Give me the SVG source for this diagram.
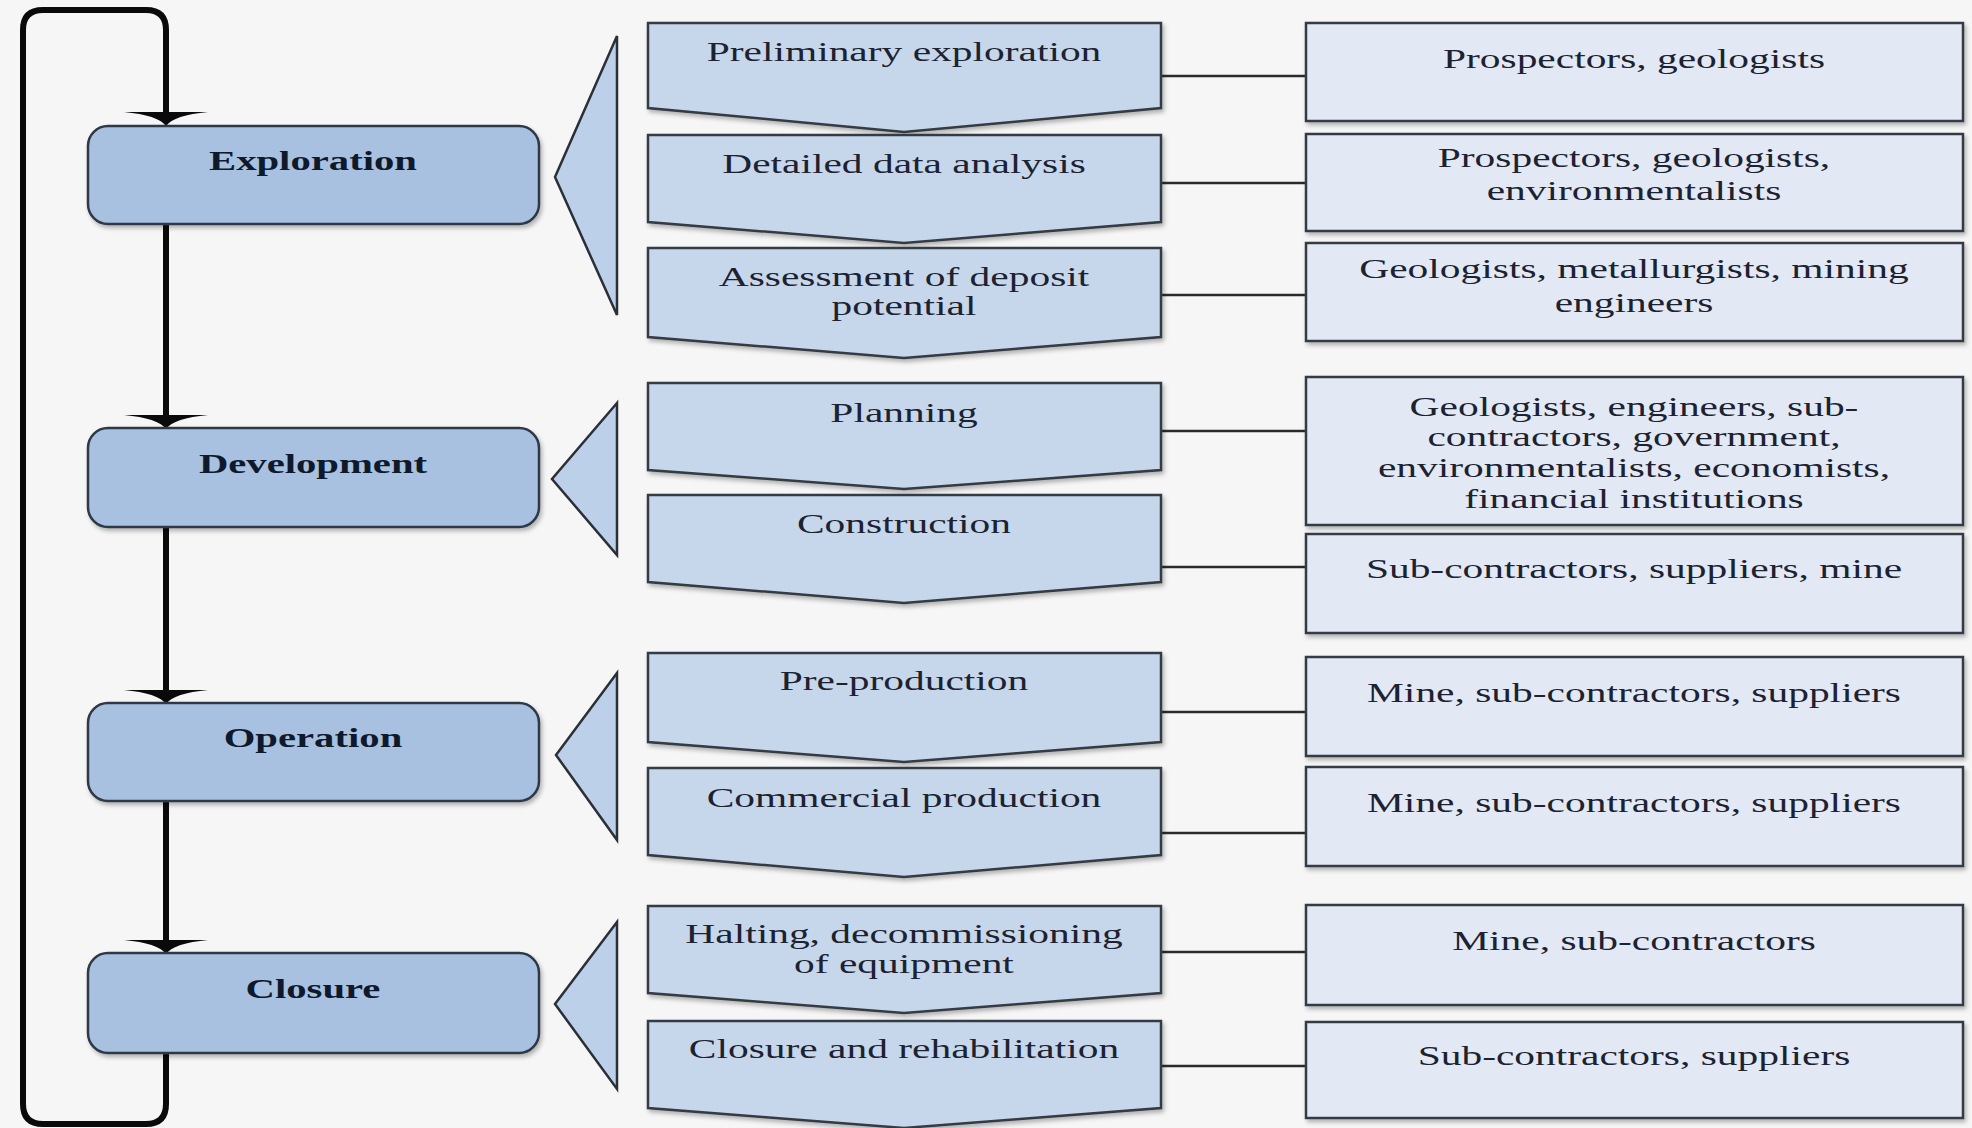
<svg xmlns="http://www.w3.org/2000/svg" xmlns:xlink="http://www.w3.org/1999/xlink" width="1972" height="1128" viewBox="0 0 1972 1128">
<style>
.bg{fill:#f6f6f6}
.stage{fill:#a8c1e0;stroke:#2e3846;stroke-width:2.5;filter:url(#sh)}
.chev{fill:#c6d7ec;stroke:#363b43;stroke-width:2.5;stroke-linejoin:miter;filter:url(#sh)}
.tri{fill:#bcd0ea;stroke:#2b3038;stroke-width:2.5;stroke-linejoin:miter}
.actor{fill:#e2e9f5;stroke:#363b43;stroke-width:2.5;filter:url(#sh)}
.flow{fill:none;stroke:#0a0a0a;stroke-width:6;stroke-linecap:butt}
.link{fill:none;stroke:#2a2a2a;stroke-width:2.5}
.st{font-family:"Liberation Serif","Times New Roman",serif;font-weight:bold;font-size:27.5px;fill:#0e1a2c;text-anchor:middle}
.tx{font-family:"Liberation Serif","Times New Roman",serif;font-size:28px;fill:#1d2230;text-anchor:middle}
</style>
<defs>
<filter id="sh" x="-5%" y="-10%" width="112%" height="130%">
<feDropShadow dx="2" dy="3" stdDeviation="2" flood-color="#000" flood-opacity="0.28"/>
</filter>
<path id="ah" d="M-42,-13 H42 Q8,-10 0,1 Q-8,-10 -42,-13 Z" fill="#0a0a0a"/>
</defs>
<rect class="bg" x="0" y="0" width="1972" height="1128"/>

<g id="connectors">
<path class="flow" d="M166,1053 V1104 Q166,1124 146,1124 H43 Q23,1124 23,1104 V30 Q23,10 43,10 H146 Q166,10 166,30 V114"/>
<path class="flow" d="M166,224 V417"/>
<path class="flow" d="M166,527 V692"/>
<path class="flow" d="M166,801 V942"/>
<use xlink:href="#ah" href="#ah" transform="translate(166,125)"/>
<use xlink:href="#ah" href="#ah" transform="translate(166,428)"/>
<use xlink:href="#ah" href="#ah" transform="translate(166,703)"/>
<use xlink:href="#ah" href="#ah" transform="translate(166,953)"/>
<path class="link" d="M1161,76 H1306 M1161,183 H1306 M1161,295 H1306 M1161,431 H1306 M1161,567 H1306 M1161,712 H1306 M1161,833 H1306 M1161,952 H1306 M1161,1066 H1306"/>
</g>

<g id="exploration">
<rect class="stage" x="88" y="126" width="451" height="98" rx="20"/>
<text class="st" transform="translate(313,170) scale(1.48,1)">Exploration</text>
<polygon class="tri" points="617,36 555,177 617,315"/>
</g>
<g id="development">
<rect class="stage" x="88" y="428" width="451" height="99" rx="20"/>
<text class="st" transform="translate(313,473) scale(1.48,1)">Development</text>
<polygon class="tri" points="617,403 552,479 617,555"/>
</g>
<g id="operation">
<rect class="stage" x="88" y="703" width="451" height="98" rx="20"/>
<text class="st" transform="translate(313,747) scale(1.48,1)">Operation</text>
<polygon class="tri" points="617,673 556,755 617,840"/>
</g>
<g id="closure">
<rect class="stage" x="88" y="953" width="451" height="100" rx="20"/>
<text class="st" transform="translate(313,998) scale(1.48,1)">Closure</text>
<polygon class="tri" points="617,922 555,1004 617,1089"/>
</g>

<g id="step-preliminary">
<path class="chev" d="M648,23 H1161 V108 L904,132 L648,108 Z"/>
<text class="tx" transform="translate(904,61) scale(1.48,1)">Preliminary exploration</text>
</g>
<g id="step-detailed">
<path class="chev" d="M648,135 H1161 V222 L904,243 L648,222 Z"/>
<text class="tx" transform="translate(904,173) scale(1.48,1)">Detailed data analysis</text>
</g>
<g id="step-assessment">
<path class="chev" d="M648,248 H1161 V337 L904,358 L648,337 Z"/>
<text class="tx" transform="translate(904,286) scale(1.48,1)"><tspan x="0" y="0">Assessment of deposit</tspan><tspan x="0" y="29">potential</tspan></text>
</g>
<g id="step-planning">
<path class="chev" d="M648,383 H1161 V470 L904,489 L648,470 Z"/>
<text class="tx" transform="translate(904,422) scale(1.48,1)">Planning</text>
</g>
<g id="step-construction">
<path class="chev" d="M648,495 H1161 V582 L904,603 L648,582 Z"/>
<text class="tx" transform="translate(904,533) scale(1.48,1)">Construction</text>
</g>
<g id="step-preproduction">
<path class="chev" d="M648,653 H1161 V742 L904,762 L648,742 Z"/>
<text class="tx" transform="translate(904,690) scale(1.48,1)">Pre-production</text>
</g>
<g id="step-commercial">
<path class="chev" d="M648,768 H1161 V855 L904,877 L648,855 Z"/>
<text class="tx" transform="translate(904,807) scale(1.48,1)">Commercial production</text>
</g>
<g id="step-halting">
<path class="chev" d="M648,906 H1161 V993 L904,1013 L648,993 Z"/>
<text class="tx" transform="translate(904,943) scale(1.48,1)"><tspan x="0" y="0">Halting, decommissioning</tspan><tspan x="0" y="30">of equipment</tspan></text>
</g>
<g id="step-rehabilitation">
<path class="chev" d="M648,1021 H1161 V1108 L904,1128 L648,1108 Z"/>
<text class="tx" transform="translate(904,1058) scale(1.48,1)">Closure and rehabilitation</text>
</g>

<g id="actors-1">
<rect class="actor" x="1306" y="23" width="657" height="98"/>
<text class="tx" transform="translate(1634,68) scale(1.48,1)">Prospectors, geologists</text>
</g>
<g id="actors-2">
<rect class="actor" x="1306" y="134" width="657" height="97"/>
<text class="tx" transform="translate(1634,167) scale(1.48,1)"><tspan x="0" y="0">Prospectors, geologists,</tspan><tspan x="0" y="33">environmentalists</tspan></text>
</g>
<g id="actors-3">
<rect class="actor" x="1306" y="243" width="657" height="98"/>
<text class="tx" transform="translate(1634,278) scale(1.48,1)"><tspan x="0" y="0">Geologists, metallurgists, mining</tspan><tspan x="0" y="34">engineers</tspan></text>
</g>
<g id="actors-4">
<rect class="actor" x="1306" y="377" width="657" height="148"/>
<text class="tx" transform="translate(1634,416) scale(1.48,1)"><tspan x="0" y="0">Geologists, engineers, sub-</tspan><tspan x="0" y="30.5">contractors, government,</tspan><tspan x="0" y="61">environmentalists, economists,</tspan><tspan x="0" y="92">financial institutions</tspan></text>
</g>
<g id="actors-5">
<rect class="actor" x="1306" y="534" width="657" height="99"/>
<text class="tx" transform="translate(1634,578) scale(1.48,1)">Sub-contractors, suppliers, mine</text>
</g>
<g id="actors-6">
<rect class="actor" x="1306" y="657" width="657" height="99"/>
<text class="tx" transform="translate(1634,702) scale(1.48,1)">Mine, sub-contractors, suppliers</text>
</g>
<g id="actors-7">
<rect class="actor" x="1306" y="767" width="657" height="99"/>
<text class="tx" transform="translate(1634,812) scale(1.48,1)">Mine, sub-contractors, suppliers</text>
</g>
<g id="actors-8">
<rect class="actor" x="1306" y="905" width="657" height="100"/>
<text class="tx" transform="translate(1634,950) scale(1.48,1)">Mine, sub-contractors</text>
</g>
<g id="actors-9">
<rect class="actor" x="1306" y="1022" width="657" height="96"/>
<text class="tx" transform="translate(1634,1065) scale(1.48,1)">Sub-contractors, suppliers</text>
</g>
</svg>
